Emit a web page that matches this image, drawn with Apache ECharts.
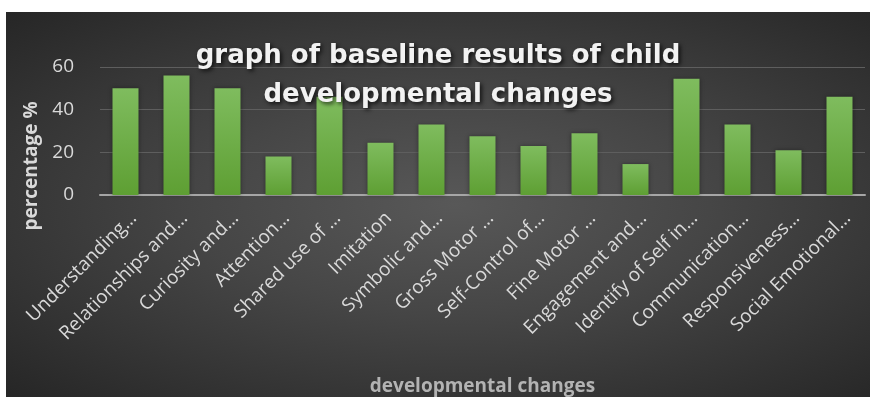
<!DOCTYPE html>
<html><head><meta charset="utf-8">
<script src="https://cdn.jsdelivr.net/npm/echarts@6/dist/echarts.min.js"></script>
<style>
html,body{margin:0;padding:0;background:#fff;width:875px;height:397px;overflow:hidden}
#c{position:absolute;left:6px;top:12px;width:864px;height:385px;
background:radial-gradient(ellipse at 52% 50%, #585858 0%, #464646 40%, #262626 100%);}
</style></head><body>
<div id="c"></div>
<script>
const categories = ["Understanding…","Relationships and…","Curiosity and…","Attention…","Shared use of …","Imitation","Symbolic and…","Gross Motor …","Self-Control of…","Fine Motor …","Engagement and…","Identify of Self in…","Communication…","Responsiveness…","Social Emotional…"];
const values = [50,56,50,18,46,24.5,33,27.5,23,29,14.5,54.5,33,21,46];
const yTicks = [0,20,40,60];
const titleText = "graph of baseline results of child\ndevelopmental changes";
const yName = "percentage %";
const xName = "developmental changes";

const chart = echarts.init(document.getElementById('c'), null, {renderer:'canvas'});
chart.setOption({
  backgroundColor:'transparent',
  animation:false,
  title:{
    text:titleText, left:'center', top:20, padding:[5,0,5,14],
    textStyle:{fontFamily:'DejaVu Sans', fontWeight:'bold', fontSize:26, color:'#f2f2f2', lineHeight:39,
      textShadowColor:'rgba(0,0,0,0.75)', textShadowBlur:4, textShadowOffsetX:2, textShadowOffsetY:2}
  },
  grid:{left:94, right:5, top:55, bottom:201},
  xAxis:{
    type:'category', data:categories,
    name:xName, nameLocation:'middle', nameGap:182,
    nameTextStyle:{fontFamily:'Open Sans', fontWeight:'bold', fontSize:19, color:'#b3b3b3'},
    axisLine:{lineStyle:{color:'#a6a6a6', width:2}},
    axisTick:{show:false},
    axisLabel:{rotate:45, interval:0, margin:12, fontFamily:'Open Sans', fontSize:19, color:'#d9d9d9',
      verticalAlign:'top', padding:[2,0,0,0]}
  },
  yAxis:{
    type:'value', min:0, max:60, interval:20,
    name:yName, nameLocation:'middle', nameGap:50,
    nameTextStyle:{fontFamily:'Open Sans', fontWeight:'bold', fontSize:19, color:'#d9d9d9', padding:[0,70,0,0]},
    axisLine:{show:false}, axisTick:{show:false},
    axisLabel:{margin:26, fontFamily:'Open Sans', fontSize:19, color:'#d9d9d9',
      formatter:v=>yTicks.includes(v)?String(v):''},
    splitLine:{lineStyle:{color:'#5e5e5e', width:1}}
  },
  series:[{
    type:'bar', data:values, barWidth:'51%',
    itemStyle:{
      color:new echarts.graphic.LinearGradient(0,0,0,1,[{offset:0,color:'#7fbc5e'},{offset:1,color:'#5e9f33'}]),
      shadowColor:'rgba(0,0,0,0.35)', shadowBlur:4
    }
  }]
});
</script></body></html>
